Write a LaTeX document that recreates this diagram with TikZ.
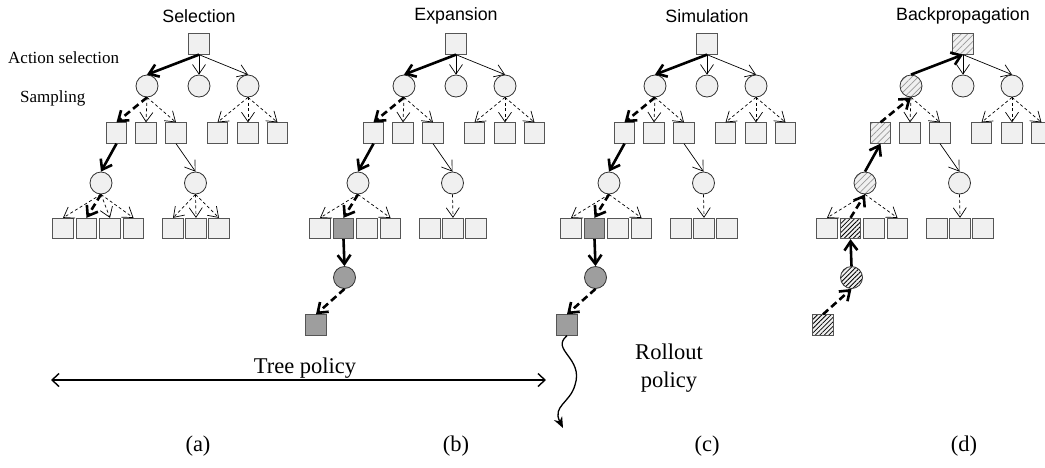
\documentclass[tikz,border=0pt]{standalone}
\usepackage{fontspec}
\setmainfont{Liberation Serif}
\setsansfont{Liberation Sans}
\definecolor{nodegray}{RGB}{240, 240, 240}
\definecolor{visitgray}{RGB}{158, 158, 158}
\definecolor{boxedge}{RGB}{85, 85, 85}
\definecolor{ringedge}{RGB}{50, 50, 50}
\usetikzlibrary{arrows.meta, patterns.meta}
\tikzset{
  sq/.style={draw=boxedge, fill=nodegray, minimum size=20.5pt, inner sep=0pt, line width=0.8pt},
  ci/.style={circle, draw=ringedge, fill=nodegray, minimum size=22pt, inner sep=0pt, line width=0.8pt},
  plainnode/.style={},
  visited/.style={fill=visitgray},
  hatchlight/.style={preaction={fill=nodegray}, pattern={Lines[angle=45, distance=4.5pt, line width=0.7pt]}, pattern color=black!40},
  hatchdark/.style={preaction={fill=nodegray}, pattern={Lines[angle=45, distance=3.2pt, line width=0.8pt]}, pattern color=black},
  thinsolid/.style={-{Straight Barb[length=9.5pt, width=13pt]}, line width=0.7pt},
  thindash/.style={thinsolid, dash pattern=on 3pt off 2.5pt},
  thickarr/.style={-{Straight Barb[length=9pt, width=13pt]}, line width=2.6pt},
  thickdash/.style={thickarr, dash pattern=on 7pt off 4pt},
  phase/.style={font=\sffamily\fontsize{17.8}{20}\selectfont},
  side/.style={font=\fontsize{17}{20}\selectfont, anchor=west, inner sep=0pt},
  caption/.style={font=\fontsize{22.5}{28}\selectfont}
}

\begin{document}
\begin{tikzpicture}[x=1pt, y=1pt]
  \useasboundingbox (0,0) rectangle (1045,-467);

  % One tree per phase
  \foreach \p/\dx/\onpath/\newnode/\ph in {a/0/plainnode/plainnode/Selection, b/257/plainnode/visited/Expansion, c/508/plainnode/visited/Simulation, d/764/hatchlight/hatchdark/Backpropagation} {
    \begin{scope}[xshift=\dx]
      \node[phase] (\p title) at (199,-16) {\ph};
      \node[sq, \onpath] (\p r) at (199,-44) {};
      \node[ci, \onpath] (\p c1) at (147,-86) {};
      \node[ci] (\p c2) at (199,-86) {};
      \node[ci] (\p c3) at (248,-86) {};
      \node[sq, \onpath] (\p s1) at (116.5,-133) {};
      \node[sq] (\p s2) at (146,-133) {};
      \node[sq] (\p s3) at (176,-133) {};
      \node[sq] (\p s4) at (217.5,-133) {};
      \node[sq] (\p s5) at (248,-133) {};
      \node[sq] (\p s6) at (277.5,-133) {};
      \node[ci, \onpath] (\p d1) at (101,-183) {};
      \node[ci] (\p d2) at (195.5,-183) {};
      \node[sq] (\p t1) at (63,-228.5) {};
      \node[sq, \newnode] (\p t2) at (86.5,-228.5) {};
      \node[sq] (\p t3) at (110,-228.5) {};
      \node[sq] (\p t4) at (133.5,-228.5) {};
      \node[sq] (\p t5) at (173,-228.5) {};
      \node[sq] (\p t6) at (196,-228.5) {};
      \node[sq] (\p t7) at (219,-228.5) {};

      \draw[thinsolid] (\p r.south) -- (\p c2.north);
      \draw[thinsolid] (\p r.south) -- (\p c3.north);
      \draw[thindash] (\p c1.south) -- (\p s2.north);
      \draw[thindash] (\p c1.south) -- (\p s3.north);
      \draw[thindash] (\p c3.south) -- (\p s4.north);
      \draw[thindash] (\p c3.south) -- (\p s5.north);
      \draw[thindash] (\p c3.south) -- (\p s6.north);
      \draw[thinsolid] (\p s3.south) -- (\p d2.north);
      \draw[thindash] (\p d1.south) -- (\p t1.north);
      \draw[thindash] (\p d1.south) -- (\p t4.north);
      \draw[thindash] (\p d2.south) -- (\p t6.north);
    \end{scope}
  }

  % New node and its first step
  \foreach \p/\dx/\sty in {b/257/visited, c/508/visited, d/764/hatchdark} {
    \begin{scope}[xshift=\dx]
      \node[ci, \sty] (\p e) at (87.5,-277.5) {};
      \node[sq, \sty] (\p f) at (59,-325) {};
    \end{scope}
  }

  % Tree policy path
  \foreach \p in {a,b,c} {
    \draw[thickarr] (\p r.south) -- (\p c1.north);
    \draw[thickdash] (\p c1.south) -- (\p s1.north);
    \draw[thickarr] (\p s1.south) -- (\p d1.north);
    \draw[thickdash] (\p d1.south) -- (\p t2.north);
  }
  \draw[thindash] (ad1.south) -- (at3.north);
  \draw[thindash] (ad2.south) -- (at5.north);
  \draw[thindash] (ad2.south) -- (at7.north);
  \foreach \p in {b,c} {
    \draw[thickarr] (\p t2.south) -- (\p e.north);
    \draw[thickdash] (\p e.south) -- (\p f.north);
  }

  % Backpropagation goes up
  \draw[thickdash] (df.north) -- (de.south);
  \draw[thickarr] (de.north) -- (dt2.south);
  \draw[thickdash] (dt2.north) -- (dd1.south);
  \draw[thickarr] (dd1.north) -- (ds1.south);
  \draw[thickdash] (ds1.north) -- (dc1.south);
  \draw[thickarr] (dc1.north) -- (dr.south);

  % Rollout
  \coordinate (rollend) at (563,-428);
  \draw[-{Stealth[length=11pt, width=9pt, inset=3.5pt]}, line width=1.3pt] (cf.south) .. controls (550,-350) and (584,-358) .. (575,-385) .. controls (570,-403) and (552,-406) .. (rollend);
  \node[caption, align=center] (rollout) at (669,-368) {Rollout\\policy};

  % Tree policy
  \coordinate (tpleft) at (51,-380);
  \coordinate (tpright) at (546,-380);
  \draw[{Straight Barb[length=7pt, width=13pt]}-{Straight Barb[length=7pt, width=13pt]}, line width=1.4pt] (tpleft) -- (tpright);
  \node[caption, anchor=south, inner sep=0pt] (treepol) at (305,-379) {Tree policy};

  % Row labels
  \node[side] (actsel) at (8,-58) {Action selection};
  \node[side] (samp) at (20,-98) {Sampling};

  % Captions
  \node[caption] (capa) at (198,-446) {(a)};
  \node[caption] (capb) at (456,-446) {(b)};
  \node[caption] (capc) at (707,-446) {(c)};
  \node[caption] (capd) at (964,-446) {(d)};
\end{tikzpicture}
\end{document}
